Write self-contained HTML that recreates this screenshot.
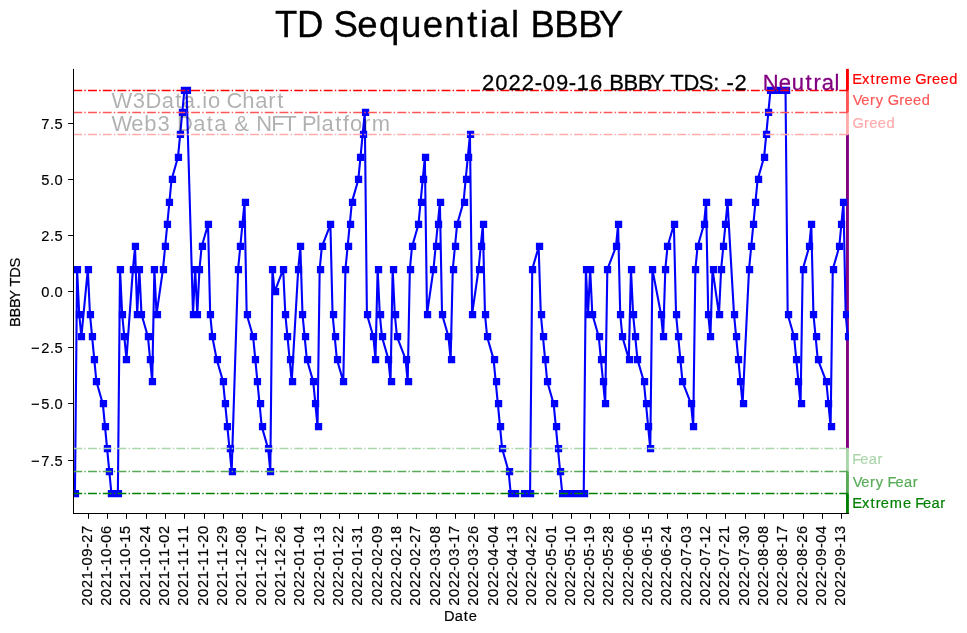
<!DOCTYPE html>
<html><head><meta charset="utf-8"><title>TD Sequential BBBY</title>
<style>html,body{margin:0;padding:0;background:#fff}svg{display:block;will-change:transform}</style></head>
<body>
<svg width="967" height="633" viewBox="0 0 967 633" font-family="Liberation Sans, sans-serif">
<rect width="967" height="633" fill="#fff"/>
<defs><clipPath id="ax"><rect x="73" y="68.9" width="776" height="444.5"/></clipPath></defs>
<rect x="846.0" y="68.90" width="2.90" height="21.60" fill="#ff0000" fill-opacity="1"/>
<rect x="846.0" y="90.50" width="2.90" height="22.00" fill="#ff5757" fill-opacity="1"/>
<rect x="846.0" y="112.50" width="2.90" height="22.00" fill="#ffabab" fill-opacity="1"/>
<rect x="846.0" y="134.50" width="2.90" height="314.00" fill="#800080" fill-opacity="1"/>
<rect x="846.0" y="448.50" width="2.90" height="23.00" fill="#abd5ab" fill-opacity="1"/>
<rect x="846.0" y="471.50" width="2.90" height="22.00" fill="#57ab57" fill-opacity="1"/>
<rect x="846.0" y="493.50" width="2.90" height="20.50" fill="#008000" fill-opacity="1"/>
<g clip-path="url(#ax)">
<polyline fill="none" stroke="#0000ff" stroke-width="2.1" stroke-linejoin="round" points="74.94,493.66 77.08,269.41 79.23,314.26 81.38,336.69 87.82,269.41 89.96,314.26 92.11,336.69 94.26,359.12 96.40,381.54 102.85,403.96 104.99,426.39 107.14,448.81 109.29,471.24 111.43,493.66 117.87,493.66 120.02,269.41 122.17,314.26 124.31,336.69 126.46,359.12 132.90,269.41 135.05,246.99 137.19,314.26 139.34,269.41 141.49,314.26 147.93,336.69 150.07,359.12 152.22,381.54 154.37,269.41 156.52,314.26 162.96,269.41 165.10,246.99 167.25,224.56 169.40,202.14 171.54,179.71 177.98,157.29 180.13,134.86 182.28,112.44 184.42,90.01 186.57,90.01 193.01,314.26 195.16,269.41 197.30,314.26 199.45,269.41 201.60,246.99 208.04,224.56 210.19,314.26 212.33,336.69 216.63,359.12 223.07,381.54 225.21,403.96 227.36,426.39 229.51,448.81 231.65,471.24 238.09,269.41 240.24,246.99 242.39,224.56 244.53,202.14 246.68,314.26 253.12,336.69 255.27,359.12 257.41,381.54 259.56,403.96 261.71,426.39 268.15,448.81 270.30,471.24 272.44,269.41 274.59,291.84 283.18,269.41 285.32,314.26 287.47,336.69 289.62,359.12 291.76,381.54 298.20,269.41 300.35,246.99 302.50,314.26 304.64,336.69 306.79,359.12 313.23,381.54 315.38,403.96 317.53,426.39 319.67,269.41 321.82,246.99 330.41,224.56 332.55,314.26 334.70,336.69 336.85,359.12 343.29,381.54 345.43,269.41 347.58,246.99 349.73,224.56 351.87,202.14 358.31,179.71 360.46,157.29 362.61,134.86 364.75,112.44 366.90,314.26 373.34,336.69 375.49,359.12 377.64,269.41 379.78,314.26 381.93,336.69 388.37,359.12 390.52,381.54 392.66,269.41 394.81,314.26 396.96,336.69 405.54,359.12 407.69,381.54 409.84,269.41 411.98,246.99 418.42,224.56 420.57,202.14 422.72,179.71 424.87,157.29 427.01,314.26 433.45,269.41 435.60,246.99 437.75,224.56 439.89,202.14 442.04,314.26 448.48,336.69 450.63,359.12 452.77,269.41 454.92,246.99 457.07,224.56 463.51,202.14 465.65,179.71 467.80,157.29 469.95,134.86 472.09,314.26 478.54,269.41 480.68,246.99 482.83,224.56 484.98,314.26 487.12,336.69 493.56,359.12 495.71,381.54 497.86,403.96 500.00,426.39 502.15,448.81 508.59,471.24 510.74,493.66 512.88,493.66 515.03,493.66"/>
<polyline fill="none" stroke="#0000ff" stroke-width="2.1" stroke-linejoin="round" points="523.62,493.66 525.76,493.66 527.91,493.66 530.06,493.66 532.21,269.41 538.65,246.99 540.79,314.26 542.94,336.69 545.09,359.12 547.23,381.54 553.67,403.96 555.82,426.39 557.97,448.81 560.11,471.24 562.26,493.66 568.70,493.66 570.85,493.66 572.99,493.66 575.14,493.66 577.29,493.66 583.73,493.66 585.88,269.41 588.02,314.26 590.17,269.41 592.32,314.26 598.76,336.69 600.90,359.12 603.05,381.54 605.20,403.96 607.34,269.41 615.93,246.99 618.08,224.56 620.22,314.26 622.37,336.69 628.81,359.12 630.96,269.41 633.10,314.26 635.25,336.69 637.40,359.12 643.84,381.54 645.99,403.96 648.13,426.39 650.28,448.81 652.43,269.41 661.01,314.26 663.16,336.69 665.31,269.41 667.45,246.99 673.89,224.56 676.04,314.26 678.19,336.69 680.33,359.12 682.48,381.54 691.07,403.96 693.22,426.39 695.36,269.41 697.51,246.99 703.95,224.56 706.10,202.14 708.24,314.26 710.39,336.69 712.54,269.41 718.98,314.26 721.12,269.41 723.27,246.99 725.42,224.56 727.56,202.14 734.00,314.26 736.15,336.69 738.30,359.12 740.44,381.54 742.59,403.96 749.03,269.41 751.18,246.99 753.33,224.56 755.47,202.14 757.62,179.71 764.06,157.29 766.21,134.86 768.35,112.44 770.50,90.01 772.65,90.01 779.09,90.01 781.23,90.01 783.38,90.01 785.53,90.01 787.67,314.26 794.11,336.69 796.26,359.12 798.41,381.54 800.56,403.96 802.70,269.41 809.14,246.99 811.29,224.56 813.44,314.26 815.58,336.69 817.73,359.12 826.32,381.54 828.46,403.96 830.61,426.39 832.76,269.41 839.20,246.99 841.34,224.56 843.49,202.14 845.64,314.26 847.78,336.69"/>
<path fill="#0000ff" d="M71.8 489.9h7.3v7.3h-7.3zM73.8 265.9h7.3v7.3h-7.3zM75.8 310.9h7.3v7.3h-7.3zM77.8 332.9h7.3v7.3h-7.3zM84.8 265.9h7.3v7.3h-7.3zM86.8 310.9h7.3v7.3h-7.3zM88.8 332.9h7.3v7.3h-7.3zM90.8 355.9h7.3v7.3h-7.3zM92.8 377.9h7.3v7.3h-7.3zM99.8 399.9h7.3v7.3h-7.3zM101.8 422.9h7.3v7.3h-7.3zM103.8 444.9h7.3v7.3h-7.3zM105.8 467.9h7.3v7.3h-7.3zM107.8 489.9h7.3v7.3h-7.3zM114.8 489.9h7.3v7.3h-7.3zM116.8 265.9h7.3v7.3h-7.3zM118.8 310.9h7.3v7.3h-7.3zM120.8 332.9h7.3v7.3h-7.3zM122.8 355.9h7.3v7.3h-7.3zM129.8 265.9h7.3v7.3h-7.3zM131.8 242.8h7.3v7.3h-7.3zM133.8 310.9h7.3v7.3h-7.3zM135.8 265.9h7.3v7.3h-7.3zM137.8 310.9h7.3v7.3h-7.3zM144.8 332.9h7.3v7.3h-7.3zM146.8 355.9h7.3v7.3h-7.3zM148.8 377.9h7.3v7.3h-7.3zM150.8 265.9h7.3v7.3h-7.3zM153.8 310.9h7.3v7.3h-7.3zM159.8 265.9h7.3v7.3h-7.3zM161.8 242.8h7.3v7.3h-7.3zM163.8 220.8h7.3v7.3h-7.3zM165.8 198.8h7.3v7.3h-7.3zM168.8 175.8h7.3v7.3h-7.3zM174.8 153.8h7.3v7.3h-7.3zM176.8 130.8h7.3v7.3h-7.3zM178.8 108.8h7.3v7.3h-7.3zM180.8 86.8h7.3v7.3h-7.3zM183.8 86.8h7.3v7.3h-7.3zM189.8 310.9h7.3v7.3h-7.3zM191.8 265.9h7.3v7.3h-7.3zM193.8 310.9h7.3v7.3h-7.3zM195.8 265.9h7.3v7.3h-7.3zM198.8 242.8h7.3v7.3h-7.3zM204.8 220.8h7.3v7.3h-7.3zM206.8 310.9h7.3v7.3h-7.3zM208.8 332.9h7.3v7.3h-7.3zM213.8 355.9h7.3v7.3h-7.3zM219.8 377.9h7.3v7.3h-7.3zM221.8 399.9h7.3v7.3h-7.3zM223.8 422.9h7.3v7.3h-7.3zM226.8 444.9h7.3v7.3h-7.3zM228.8 467.9h7.3v7.3h-7.3zM234.8 265.9h7.3v7.3h-7.3zM236.8 242.8h7.3v7.3h-7.3zM238.8 220.8h7.3v7.3h-7.3zM241.8 198.8h7.3v7.3h-7.3zM243.8 310.9h7.3v7.3h-7.3zM249.8 332.9h7.3v7.3h-7.3zM251.8 355.9h7.3v7.3h-7.3zM253.8 377.9h7.3v7.3h-7.3zM256.9 399.9h7.3v7.3h-7.3zM258.9 422.9h7.3v7.3h-7.3zM264.9 444.9h7.3v7.3h-7.3zM266.9 467.9h7.3v7.3h-7.3zM268.9 265.9h7.3v7.3h-7.3zM271.9 287.9h7.3v7.3h-7.3zM279.9 265.9h7.3v7.3h-7.3zM281.9 310.9h7.3v7.3h-7.3zM283.9 332.9h7.3v7.3h-7.3zM286.9 355.9h7.3v7.3h-7.3zM288.9 377.9h7.3v7.3h-7.3zM294.9 265.9h7.3v7.3h-7.3zM296.9 242.8h7.3v7.3h-7.3zM298.9 310.9h7.3v7.3h-7.3zM301.9 332.9h7.3v7.3h-7.3zM303.9 355.9h7.3v7.3h-7.3zM309.9 377.9h7.3v7.3h-7.3zM311.9 399.9h7.3v7.3h-7.3zM314.9 422.9h7.3v7.3h-7.3zM316.9 265.9h7.3v7.3h-7.3zM318.9 242.8h7.3v7.3h-7.3zM326.9 220.8h7.3v7.3h-7.3zM329.9 310.9h7.3v7.3h-7.3zM331.9 332.9h7.3v7.3h-7.3zM333.9 355.9h7.3v7.3h-7.3zM339.9 377.9h7.3v7.3h-7.3zM341.9 265.9h7.3v7.3h-7.3zM344.9 242.8h7.3v7.3h-7.3zM346.9 220.8h7.3v7.3h-7.3zM348.9 198.8h7.3v7.3h-7.3zM354.9 175.8h7.3v7.3h-7.3zM356.9 153.8h7.3v7.3h-7.3zM359.9 130.8h7.3v7.3h-7.3zM361.9 108.8h7.3v7.3h-7.3zM363.9 310.9h7.3v7.3h-7.3zM369.9 332.9h7.3v7.3h-7.3zM371.9 355.9h7.3v7.3h-7.3zM374.9 265.9h7.3v7.3h-7.3zM376.9 310.9h7.3v7.3h-7.3zM378.9 332.9h7.3v7.3h-7.3zM384.9 355.9h7.3v7.3h-7.3zM387.9 377.9h7.3v7.3h-7.3zM389.9 265.9h7.3v7.3h-7.3zM391.9 310.9h7.3v7.3h-7.3zM393.9 332.9h7.3v7.3h-7.3zM402.9 355.9h7.3v7.3h-7.3zM404.9 377.9h7.3v7.3h-7.3zM406.9 265.9h7.3v7.3h-7.3zM408.9 242.8h7.3v7.3h-7.3zM414.9 220.8h7.3v7.3h-7.3zM417.9 198.8h7.3v7.3h-7.3zM419.9 175.8h7.3v7.3h-7.3zM421.9 153.8h7.3v7.3h-7.3zM423.9 310.9h7.3v7.3h-7.3zM429.9 265.9h7.3v7.3h-7.3zM432.9 242.8h7.3v7.3h-7.3zM434.9 220.8h7.3v7.3h-7.3zM436.9 198.8h7.3v7.3h-7.3zM438.9 310.9h7.3v7.3h-7.3zM444.9 332.9h7.3v7.3h-7.3zM447.9 355.9h7.3v7.3h-7.3zM449.9 265.9h7.3v7.3h-7.3zM451.9 242.8h7.3v7.3h-7.3zM453.9 220.8h7.3v7.3h-7.3zM460.9 198.8h7.3v7.3h-7.3zM462.9 175.8h7.3v7.3h-7.3zM464.9 153.8h7.3v7.3h-7.3zM466.9 130.8h7.3v7.3h-7.3zM468.9 310.9h7.3v7.3h-7.3zM475.9 265.9h7.3v7.3h-7.3zM477.9 242.8h7.3v7.3h-7.3zM479.9 220.8h7.3v7.3h-7.3zM481.9 310.9h7.3v7.3h-7.3zM483.9 332.9h7.3v7.3h-7.3zM490.9 355.9h7.3v7.3h-7.3zM492.9 377.9h7.3v7.3h-7.3zM494.9 399.9h7.3v7.3h-7.3zM496.9 422.9h7.3v7.3h-7.3zM498.9 444.9h7.3v7.3h-7.3zM505.9 467.9h7.3v7.3h-7.3zM507.9 489.9h7.3v7.3h-7.3zM509.9 489.9h7.3v7.3h-7.3zM511.9 489.9h7.3v7.3h-7.3zM520.9 489.9h7.3v7.3h-7.3zM522.9 489.9h7.3v7.3h-7.3zM524.9 489.9h7.3v7.3h-7.3zM526.9 489.9h7.3v7.3h-7.3zM528.9 265.9h7.3v7.3h-7.3zM535.9 242.8h7.3v7.3h-7.3zM537.9 310.9h7.3v7.3h-7.3zM539.9 332.9h7.3v7.3h-7.3zM541.9 355.9h7.3v7.3h-7.3zM543.9 377.9h7.3v7.3h-7.3zM550.9 399.9h7.3v7.3h-7.3zM552.9 422.9h7.3v7.3h-7.3zM554.9 444.9h7.3v7.3h-7.3zM556.9 467.9h7.3v7.3h-7.3zM558.9 489.9h7.3v7.3h-7.3zM565.9 489.9h7.3v7.3h-7.3zM567.9 489.9h7.3v7.3h-7.3zM569.9 489.9h7.3v7.3h-7.3zM571.9 489.9h7.3v7.3h-7.3zM573.9 489.9h7.3v7.3h-7.3zM580.9 489.9h7.3v7.3h-7.3zM582.9 265.9h7.3v7.3h-7.3zM584.9 310.9h7.3v7.3h-7.3zM586.9 265.9h7.3v7.3h-7.3zM588.9 310.9h7.3v7.3h-7.3zM595.9 332.9h7.3v7.3h-7.3zM597.9 355.9h7.3v7.3h-7.3zM599.9 377.9h7.3v7.3h-7.3zM601.9 399.9h7.3v7.3h-7.3zM603.9 265.9h7.3v7.3h-7.3zM612.9 242.8h7.3v7.3h-7.3zM614.9 220.8h7.3v7.3h-7.3zM616.9 310.9h7.3v7.3h-7.3zM618.9 332.9h7.3v7.3h-7.3zM625.9 355.9h7.3v7.3h-7.3zM627.9 265.9h7.3v7.3h-7.3zM629.9 310.9h7.3v7.3h-7.3zM631.9 332.9h7.3v7.3h-7.3zM633.9 355.9h7.3v7.3h-7.3zM640.9 377.9h7.3v7.3h-7.3zM642.9 399.9h7.3v7.3h-7.3zM644.9 422.9h7.3v7.3h-7.3zM646.9 444.9h7.3v7.3h-7.3zM648.9 265.9h7.3v7.3h-7.3zM657.9 310.9h7.3v7.3h-7.3zM659.9 332.9h7.3v7.3h-7.3zM661.9 265.9h7.3v7.3h-7.3zM663.9 242.8h7.3v7.3h-7.3zM670.9 220.8h7.3v7.3h-7.3zM672.9 310.9h7.3v7.3h-7.3zM674.9 332.9h7.3v7.3h-7.3zM676.9 355.9h7.3v7.3h-7.3zM678.9 377.9h7.3v7.3h-7.3zM687.9 399.9h7.3v7.3h-7.3zM689.9 422.9h7.3v7.3h-7.3zM691.9 265.9h7.3v7.3h-7.3zM694.9 242.8h7.3v7.3h-7.3zM700.9 220.8h7.3v7.3h-7.3zM702.9 198.8h7.3v7.3h-7.3zM704.9 310.9h7.3v7.3h-7.3zM706.9 332.9h7.3v7.3h-7.3zM709.9 265.9h7.3v7.3h-7.3zM715.9 310.9h7.3v7.3h-7.3zM717.9 265.9h7.3v7.3h-7.3zM719.9 242.8h7.3v7.3h-7.3zM721.9 220.8h7.3v7.3h-7.3zM724.9 198.8h7.3v7.3h-7.3zM730.9 310.9h7.3v7.3h-7.3zM732.9 332.9h7.3v7.3h-7.3zM734.9 355.9h7.3v7.3h-7.3zM736.9 377.9h7.3v7.3h-7.3zM739.9 399.9h7.3v7.3h-7.3zM745.9 265.9h7.3v7.3h-7.3zM747.9 242.8h7.3v7.3h-7.3zM749.9 220.8h7.3v7.3h-7.3zM751.9 198.8h7.3v7.3h-7.3zM754.9 175.8h7.3v7.3h-7.3zM760.9 153.8h7.3v7.3h-7.3zM762.9 130.8h7.3v7.3h-7.3zM764.9 108.8h7.3v7.3h-7.3zM766.9 86.8h7.3v7.3h-7.3zM769.9 86.8h7.3v7.3h-7.3zM775.9 86.8h7.3v7.3h-7.3zM777.9 86.8h7.3v7.3h-7.3zM779.9 86.8h7.3v7.3h-7.3zM782.9 86.8h7.3v7.3h-7.3zM784.9 310.9h7.3v7.3h-7.3zM790.9 332.9h7.3v7.3h-7.3zM792.9 355.9h7.3v7.3h-7.3zM794.9 377.9h7.3v7.3h-7.3zM797.9 399.9h7.3v7.3h-7.3zM799.9 265.9h7.3v7.3h-7.3zM805.9 242.8h7.3v7.3h-7.3zM807.9 220.8h7.3v7.3h-7.3zM809.9 310.9h7.3v7.3h-7.3zM812.9 332.9h7.3v7.3h-7.3zM814.9 355.9h7.3v7.3h-7.3zM822.9 377.9h7.3v7.3h-7.3zM824.9 399.9h7.3v7.3h-7.3zM827.9 422.9h7.3v7.3h-7.3zM829.9 265.9h7.3v7.3h-7.3zM835.9 242.8h7.3v7.3h-7.3zM837.9 220.8h7.3v7.3h-7.3zM839.9 198.8h7.3v7.3h-7.3zM842.9 310.9h7.3v7.3h-7.3zM844.9 332.9h7.3v7.3h-7.3z"/>
</g>
<line x1="73.29" x2="848.2847999999999" y1="90.5" y2="90.5" stroke="#ff0000" stroke-opacity="1" stroke-width="1.39" stroke-dasharray="8.90 2.22 1.39 2.22"/>
<line x1="73.29" x2="848.2847999999999" y1="112.5" y2="112.5" stroke="#ff5757" stroke-opacity="1" stroke-width="1.39" stroke-dasharray="8.90 2.22 1.39 2.22"/>
<line x1="73.29" x2="848.2847999999999" y1="134.5" y2="134.5" stroke="#ffabab" stroke-opacity="1" stroke-width="1.39" stroke-dasharray="8.90 2.22 1.39 2.22"/>
<line x1="73.29" x2="848.2847999999999" y1="448.5" y2="448.5" stroke="#abd5ab" stroke-opacity="1" stroke-width="1.39" stroke-dasharray="8.90 2.22 1.39 2.22"/>
<line x1="73.29" x2="848.2847999999999" y1="471.5" y2="471.5" stroke="#57ab57" stroke-opacity="1" stroke-width="1.39" stroke-dasharray="8.90 2.22 1.39 2.22"/>
<line x1="73.29" x2="848.2847999999999" y1="493.5" y2="493.5" stroke="#008000" stroke-opacity="1" stroke-width="1.39" stroke-dasharray="8.90 2.22 1.39 2.22"/>
<rect x="73" y="68.9" width="1" height="445.10" fill="#000"/>
<rect x="73" y="513" width="775.90" height="1" fill="#000"/>
<path fill="#000" d="M88 514h1v4.86h-1zM107 514h1v4.86h-1zM126 514h1v4.86h-1zM146 514h1v4.86h-1zM165 514h1v4.86h-1zM184 514h1v4.86h-1zM204 514h1v4.86h-1zM223 514h1v4.86h-1zM242 514h1v4.86h-1zM262 514h1v4.86h-1zM281 514h1v4.86h-1zM300 514h1v4.86h-1zM320 514h1v4.86h-1zM339 514h1v4.86h-1zM358 514h1v4.86h-1zM378 514h1v4.86h-1zM397 514h1v4.86h-1zM416 514h1v4.86h-1zM436 514h1v4.86h-1zM455 514h1v4.86h-1zM474 514h1v4.86h-1zM494 514h1v4.86h-1zM513 514h1v4.86h-1zM532 514h1v4.86h-1zM552 514h1v4.86h-1zM571 514h1v4.86h-1zM590 514h1v4.86h-1zM609 514h1v4.86h-1zM629 514h1v4.86h-1zM648 514h1v4.86h-1zM667 514h1v4.86h-1zM687 514h1v4.86h-1zM706 514h1v4.86h-1zM725 514h1v4.86h-1zM745 514h1v4.86h-1zM764 514h1v4.86h-1zM783 514h1v4.86h-1zM803 514h1v4.86h-1zM822 514h1v4.86h-1zM841 514h1v4.86h-1zM68.14 123h4.86v1h-4.86zM68.14 179h4.86v1h-4.86zM68.14 235h4.86v1h-4.86zM68.14 291h4.86v1h-4.86zM68.14 347h4.86v1h-4.86zM68.14 403h4.86v1h-4.86zM68.14 460h4.86v1h-4.86z"/>
<text transform="translate(41.00,129.30)" font-size="14.65" fill="#000" stroke="#000" stroke-width="0.18" x="0.34 9.00 13.58">7.5</text>
<text transform="translate(41.00,185.30)" font-size="14.65" fill="#000" stroke="#000" stroke-width="0.18" x="0.34 9.00 13.58">5.0</text>
<text transform="translate(41.00,241.30)" font-size="14.65" fill="#000" stroke="#000" stroke-width="0.18" x="0.34 9.00 13.58">2.5</text>
<text transform="translate(41.00,297.30)" font-size="14.65" fill="#000" stroke="#000" stroke-width="0.18" x="0.34 9.00 13.58">0.0</text>
<text transform="translate(29.38,353.30)" font-size="14.65" fill="#000" stroke="#000" stroke-width="0.18" x="1.53 11.96 20.62 25.20">−2.5</text>
<text transform="translate(29.38,409.30)" font-size="14.65" fill="#000" stroke="#000" stroke-width="0.18" x="1.53 11.96 20.62 25.20">−5.0</text>
<text transform="translate(29.38,466.30)" font-size="14.65" fill="#000" stroke="#000" stroke-width="0.18" x="1.53 11.96 20.62 25.20">−7.5</text>
<text transform="translate(92.10,606.10) rotate(-90)" font-size="14.65" fill="#000" stroke="#000" stroke-width="0.18" x="0.34 9.17 17.99 26.82 35.37 40.66 49.48 58.04 63.32 72.15">2021-09-27</text>
<text transform="translate(111.10,606.10) rotate(-90)" font-size="14.65" fill="#000" stroke="#000" stroke-width="0.18" x="0.34 9.17 17.99 26.82 35.37 40.66 49.48 58.04 63.32 72.15">2021-10-06</text>
<text transform="translate(130.10,606.10) rotate(-90)" font-size="14.65" fill="#000" stroke="#000" stroke-width="0.18" x="0.34 9.17 17.99 26.82 35.37 40.66 49.48 58.04 63.32 72.15">2021-10-15</text>
<text transform="translate(150.10,606.10) rotate(-90)" font-size="14.65" fill="#000" stroke="#000" stroke-width="0.18" x="0.34 9.17 17.99 26.82 35.37 40.66 49.48 58.04 63.32 72.15">2021-10-24</text>
<text transform="translate(169.10,606.10) rotate(-90)" font-size="14.65" fill="#000" stroke="#000" stroke-width="0.18" x="0.34 9.17 17.99 26.82 35.37 40.66 49.48 58.04 63.32 72.15">2021-11-02</text>
<text transform="translate(188.10,606.10) rotate(-90)" font-size="14.65" fill="#000" stroke="#000" stroke-width="0.18" x="0.34 9.17 17.99 26.82 35.37 40.66 49.48 58.04 63.32 72.15">2021-11-11</text>
<text transform="translate(208.10,606.10) rotate(-90)" font-size="14.65" fill="#000" stroke="#000" stroke-width="0.18" x="0.34 9.17 17.99 26.82 35.37 40.66 49.48 58.04 63.32 72.15">2021-11-20</text>
<text transform="translate(227.10,606.10) rotate(-90)" font-size="14.65" fill="#000" stroke="#000" stroke-width="0.18" x="0.34 9.17 17.99 26.82 35.37 40.66 49.48 58.04 63.32 72.15">2021-11-29</text>
<text transform="translate(246.10,606.10) rotate(-90)" font-size="14.65" fill="#000" stroke="#000" stroke-width="0.18" x="0.34 9.17 17.99 26.82 35.37 40.66 49.48 58.04 63.32 72.15">2021-12-08</text>
<text transform="translate(266.10,606.10) rotate(-90)" font-size="14.65" fill="#000" stroke="#000" stroke-width="0.18" x="0.34 9.17 17.99 26.82 35.37 40.66 49.48 58.04 63.32 72.15">2021-12-17</text>
<text transform="translate(285.10,606.10) rotate(-90)" font-size="14.65" fill="#000" stroke="#000" stroke-width="0.18" x="0.34 9.17 17.99 26.82 35.37 40.66 49.48 58.04 63.32 72.15">2021-12-26</text>
<text transform="translate(304.10,606.10) rotate(-90)" font-size="14.65" fill="#000" stroke="#000" stroke-width="0.18" x="0.34 9.17 17.99 26.82 35.37 40.66 49.48 58.04 63.32 72.15">2022-01-04</text>
<text transform="translate(324.10,606.10) rotate(-90)" font-size="14.65" fill="#000" stroke="#000" stroke-width="0.18" x="0.34 9.17 17.99 26.82 35.37 40.66 49.48 58.04 63.32 72.15">2022-01-13</text>
<text transform="translate(343.10,606.10) rotate(-90)" font-size="14.65" fill="#000" stroke="#000" stroke-width="0.18" x="0.34 9.17 17.99 26.82 35.37 40.66 49.48 58.04 63.32 72.15">2022-01-22</text>
<text transform="translate(362.10,606.10) rotate(-90)" font-size="14.65" fill="#000" stroke="#000" stroke-width="0.18" x="0.34 9.17 17.99 26.82 35.37 40.66 49.48 58.04 63.32 72.15">2022-01-31</text>
<text transform="translate(382.10,606.10) rotate(-90)" font-size="14.65" fill="#000" stroke="#000" stroke-width="0.18" x="0.34 9.17 17.99 26.82 35.37 40.66 49.48 58.04 63.32 72.15">2022-02-09</text>
<text transform="translate(401.10,606.10) rotate(-90)" font-size="14.65" fill="#000" stroke="#000" stroke-width="0.18" x="0.34 9.17 17.99 26.82 35.37 40.66 49.48 58.04 63.32 72.15">2022-02-18</text>
<text transform="translate(420.10,606.10) rotate(-90)" font-size="14.65" fill="#000" stroke="#000" stroke-width="0.18" x="0.34 9.17 17.99 26.82 35.37 40.66 49.48 58.04 63.32 72.15">2022-02-27</text>
<text transform="translate(440.10,606.10) rotate(-90)" font-size="14.65" fill="#000" stroke="#000" stroke-width="0.18" x="0.34 9.17 17.99 26.82 35.37 40.66 49.48 58.04 63.32 72.15">2022-03-08</text>
<text transform="translate(459.10,606.10) rotate(-90)" font-size="14.65" fill="#000" stroke="#000" stroke-width="0.18" x="0.34 9.17 17.99 26.82 35.37 40.66 49.48 58.04 63.32 72.15">2022-03-17</text>
<text transform="translate(478.10,606.10) rotate(-90)" font-size="14.65" fill="#000" stroke="#000" stroke-width="0.18" x="0.34 9.17 17.99 26.82 35.37 40.66 49.48 58.04 63.32 72.15">2022-03-26</text>
<text transform="translate(498.10,606.10) rotate(-90)" font-size="14.65" fill="#000" stroke="#000" stroke-width="0.18" x="0.34 9.17 17.99 26.82 35.37 40.66 49.48 58.04 63.32 72.15">2022-04-04</text>
<text transform="translate(517.10,606.10) rotate(-90)" font-size="14.65" fill="#000" stroke="#000" stroke-width="0.18" x="0.34 9.17 17.99 26.82 35.37 40.66 49.48 58.04 63.32 72.15">2022-04-13</text>
<text transform="translate(536.10,606.10) rotate(-90)" font-size="14.65" fill="#000" stroke="#000" stroke-width="0.18" x="0.34 9.17 17.99 26.82 35.37 40.66 49.48 58.04 63.32 72.15">2022-04-22</text>
<text transform="translate(556.10,606.10) rotate(-90)" font-size="14.65" fill="#000" stroke="#000" stroke-width="0.18" x="0.34 9.17 17.99 26.82 35.37 40.66 49.48 58.04 63.32 72.15">2022-05-01</text>
<text transform="translate(575.10,606.10) rotate(-90)" font-size="14.65" fill="#000" stroke="#000" stroke-width="0.18" x="0.34 9.17 17.99 26.82 35.37 40.66 49.48 58.04 63.32 72.15">2022-05-10</text>
<text transform="translate(594.10,606.10) rotate(-90)" font-size="14.65" fill="#000" stroke="#000" stroke-width="0.18" x="0.34 9.17 17.99 26.82 35.37 40.66 49.48 58.04 63.32 72.15">2022-05-19</text>
<text transform="translate(613.10,606.10) rotate(-90)" font-size="14.65" fill="#000" stroke="#000" stroke-width="0.18" x="0.34 9.17 17.99 26.82 35.37 40.66 49.48 58.04 63.32 72.15">2022-05-28</text>
<text transform="translate(633.10,606.10) rotate(-90)" font-size="14.65" fill="#000" stroke="#000" stroke-width="0.18" x="0.34 9.17 17.99 26.82 35.37 40.66 49.48 58.04 63.32 72.15">2022-06-06</text>
<text transform="translate(652.10,606.10) rotate(-90)" font-size="14.65" fill="#000" stroke="#000" stroke-width="0.18" x="0.34 9.17 17.99 26.82 35.37 40.66 49.48 58.04 63.32 72.15">2022-06-15</text>
<text transform="translate(671.10,606.10) rotate(-90)" font-size="14.65" fill="#000" stroke="#000" stroke-width="0.18" x="0.34 9.17 17.99 26.82 35.37 40.66 49.48 58.04 63.32 72.15">2022-06-24</text>
<text transform="translate(691.10,606.10) rotate(-90)" font-size="14.65" fill="#000" stroke="#000" stroke-width="0.18" x="0.34 9.17 17.99 26.82 35.37 40.66 49.48 58.04 63.32 72.15">2022-07-03</text>
<text transform="translate(710.10,606.10) rotate(-90)" font-size="14.65" fill="#000" stroke="#000" stroke-width="0.18" x="0.34 9.17 17.99 26.82 35.37 40.66 49.48 58.04 63.32 72.15">2022-07-12</text>
<text transform="translate(729.10,606.10) rotate(-90)" font-size="14.65" fill="#000" stroke="#000" stroke-width="0.18" x="0.34 9.17 17.99 26.82 35.37 40.66 49.48 58.04 63.32 72.15">2022-07-21</text>
<text transform="translate(749.10,606.10) rotate(-90)" font-size="14.65" fill="#000" stroke="#000" stroke-width="0.18" x="0.34 9.17 17.99 26.82 35.37 40.66 49.48 58.04 63.32 72.15">2022-07-30</text>
<text transform="translate(768.10,606.10) rotate(-90)" font-size="14.65" fill="#000" stroke="#000" stroke-width="0.18" x="0.34 9.17 17.99 26.82 35.37 40.66 49.48 58.04 63.32 72.15">2022-08-08</text>
<text transform="translate(787.10,606.10) rotate(-90)" font-size="14.65" fill="#000" stroke="#000" stroke-width="0.18" x="0.34 9.17 17.99 26.82 35.37 40.66 49.48 58.04 63.32 72.15">2022-08-17</text>
<text transform="translate(807.10,606.10) rotate(-90)" font-size="14.65" fill="#000" stroke="#000" stroke-width="0.18" x="0.34 9.17 17.99 26.82 35.37 40.66 49.48 58.04 63.32 72.15">2022-08-26</text>
<text transform="translate(826.10,606.10) rotate(-90)" font-size="14.65" fill="#000" stroke="#000" stroke-width="0.18" x="0.34 9.17 17.99 26.82 35.37 40.66 49.48 58.04 63.32 72.15">2022-09-04</text>
<text transform="translate(845.10,606.10) rotate(-90)" font-size="14.65" fill="#000" stroke="#000" stroke-width="0.18" x="0.34 9.17 17.99 26.82 35.37 40.66 49.48 58.04 63.32 72.15">2022-09-13</text>
<text transform="translate(443.90,620.90)" font-size="14.65" fill="#000" stroke="#000" stroke-width="0.18" x="0.05 10.86 19.87 24.82">Date</text>
<text transform="translate(19.80,326.90) rotate(-90)" font-size="14.65" fill="#000" stroke="#000" stroke-width="0.18" x="-0.13 9.39 18.91 27.16 36.45 40.45 49.22 59.37">BBBY TDS</text>
<text transform="translate(275.60,37.00)" font-size="36.60" fill="#000" stroke="#000" stroke-width="0.30" x="-0.57 21.39 48.42 57.85 81.60 103.32 125.36 147.06 168.76 191.68 204.34 213.70 235.29 244.62 254.94 278.78 302.62 323.28">TD Sequential BBBY</text>
<text transform="translate(481.50,90.20)" font-size="21.98" fill="#000" stroke="#000" stroke-width="0.26" x="0.53 13.81 27.09 40.37 53.23 61.19 74.47 87.33 95.28 108.56 121.58 127.78 142.10 156.42 168.84 182.81 188.84 202.03 217.30 231.72 238.55 245.03 252.98">2022-09-16 BBBY TDS: -2</text>
<text transform="translate(762.90,90.20)" font-size="21.98" fill="#800080" stroke="#800080" stroke-width="0.26" x="-0.13 15.93 28.96 42.73 50.51 58.74 71.71">Neutral</text>
<text transform="translate(111.50,107.90)" font-size="21.98" fill="#000000" fill-opacity="0.31" x="-0.05 21.17 34.02 50.28 63.83 71.26 84.03 90.86 96.48 109.24 114.96 130.69 143.70 156.84 165.83">W3Data.io Chart</text>
<text transform="translate(111.50,130.60)" font-size="21.98" fill="#000000" fill-opacity="0.31" x="-0.05 19.70 32.75 46.01 59.03 65.50 81.76 95.31 102.74 115.51 122.69 138.42 144.67 159.70 171.70 185.06 190.39 204.47 210.10 223.65 231.41 238.42 251.55 260.14">Web3 Data &amp; NFT Platform</text>
<text transform="translate(852.80,83.70)" font-size="14.65" fill="#ff0000" stroke="#ff0000" stroke-width="0.18" x="-0.50 9.21 17.66 22.83 28.07 37.06 50.12 58.63 62.55 74.04 79.27 87.81 96.48">Extreme Greed</text>
<text transform="translate(852.80,104.60)" font-size="14.65" fill="#ff5757" stroke="#ff5757" stroke-width="0.18" x="-0.14 8.56 17.32 23.05 30.99 34.91 46.39 51.63 60.17 68.84">Very Greed</text>
<text transform="translate(852.80,127.60)" font-size="14.65" fill="#ffabab" stroke="#ffabab" stroke-width="0.18" x="-0.32 11.16 16.40 24.94 33.61">Greed</text>
<text transform="translate(852.80,463.90)" font-size="14.65" fill="#abd5ab" stroke="#abd5ab" stroke-width="0.18" x="-0.49 7.42 15.94 24.68">Fear</text>
<text transform="translate(852.80,486.90)" font-size="14.65" fill="#57ab57" stroke="#57ab57" stroke-width="0.18" x="-0.14 8.56 17.32 23.05 30.99 34.74 42.65 51.17 59.91">Very Fear</text>
<text transform="translate(852.80,507.80)" font-size="14.65" fill="#008000" stroke="#008000" stroke-width="0.18" x="-0.50 9.21 17.66 22.83 28.07 37.06 50.12 58.63 62.39 70.30 78.82 87.55">Extreme Fear</text>
</svg>
</body></html>
